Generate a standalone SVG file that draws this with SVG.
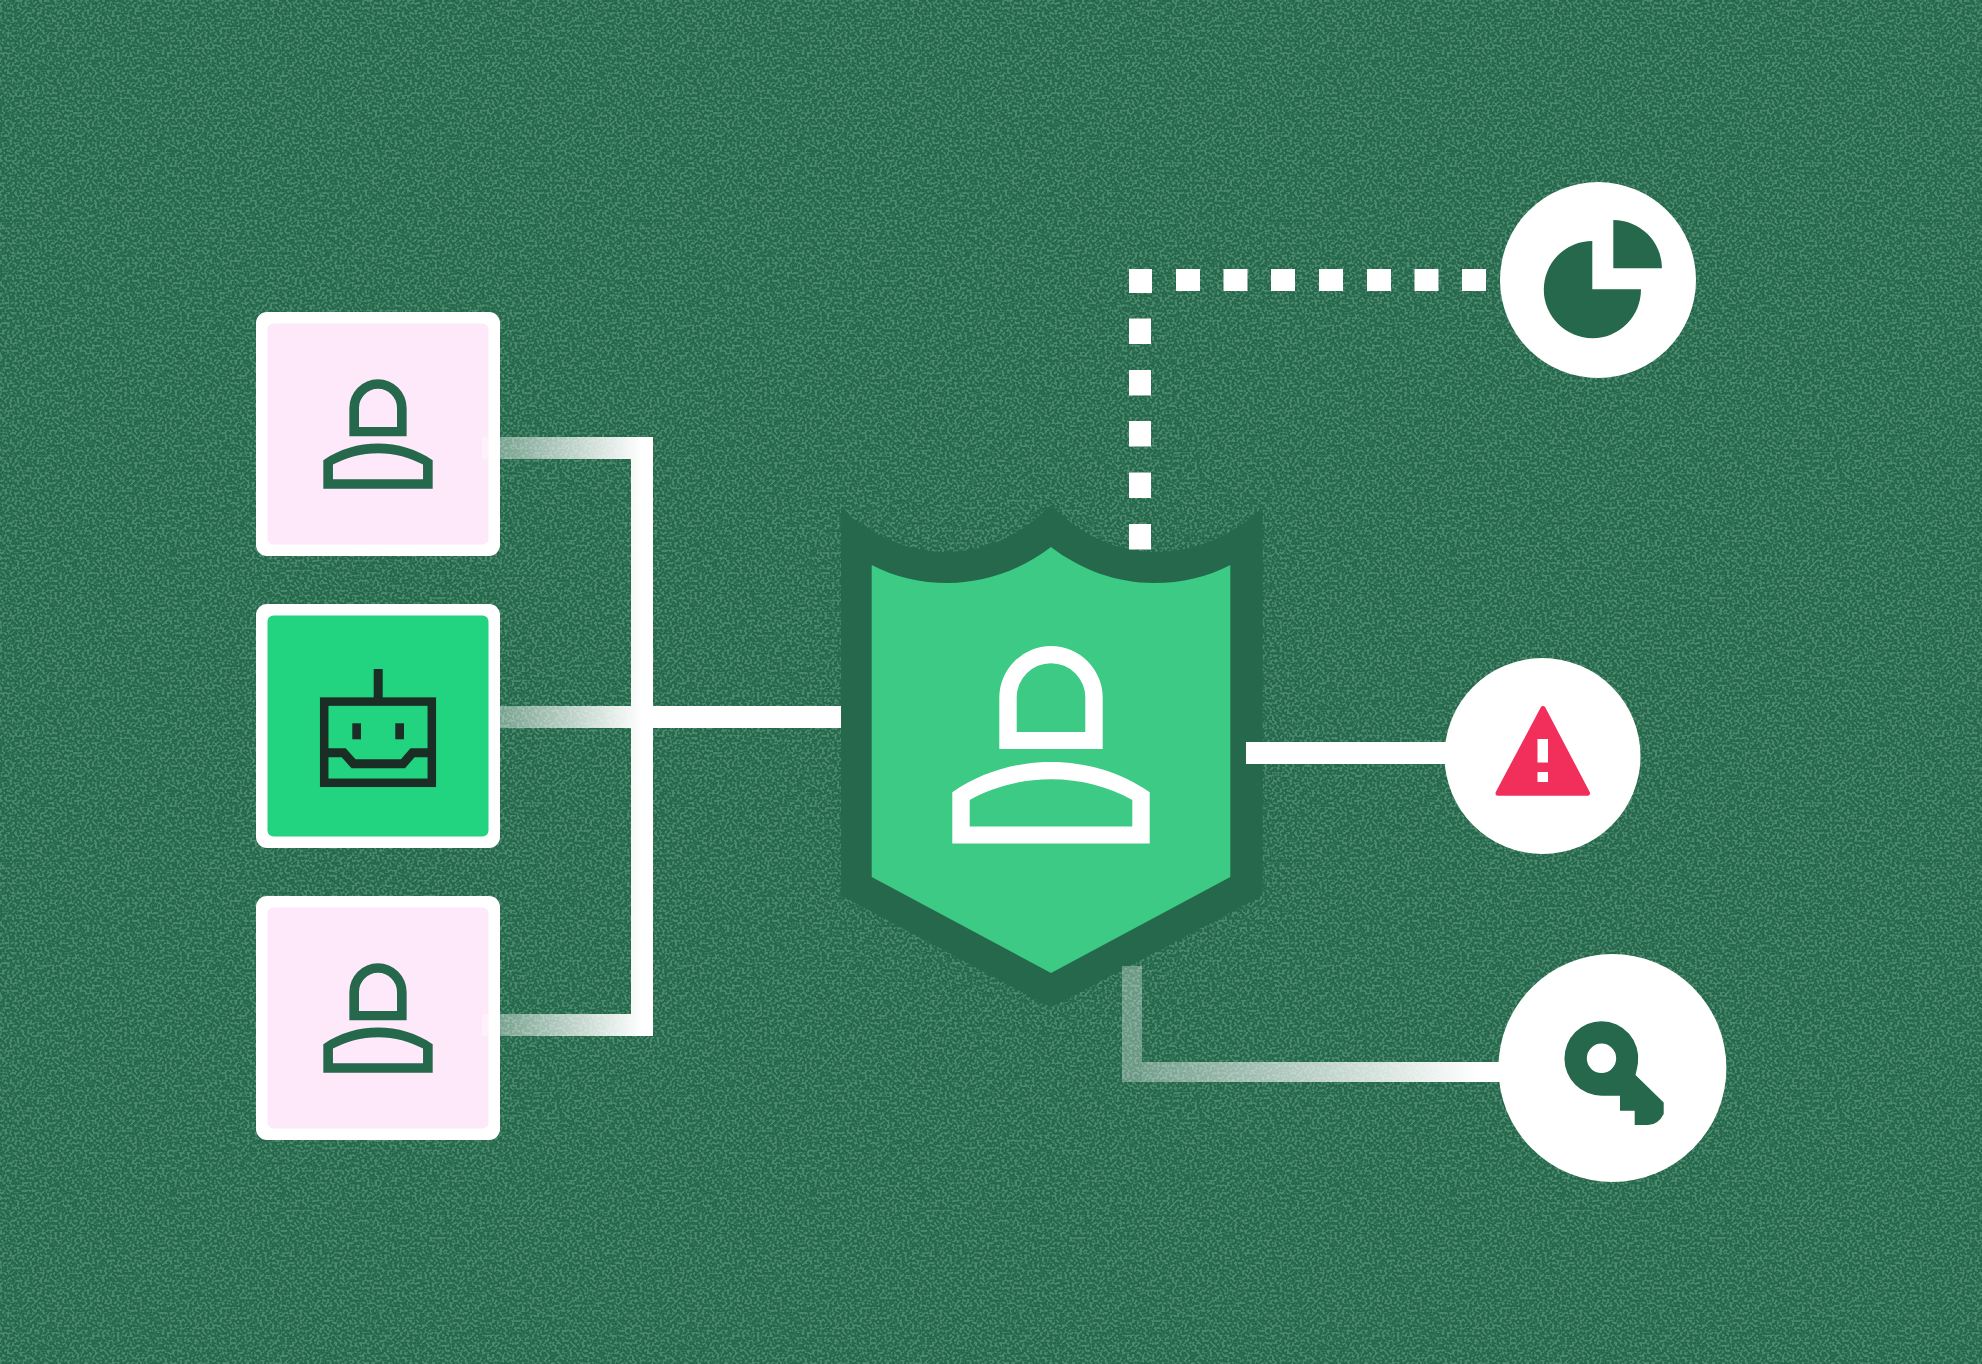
<svg xmlns="http://www.w3.org/2000/svg" width="1982" height="1364" viewBox="0 0 1982 1364">
<style>
.frame{fill:#fff}
.line{fill:#fff}
.ink{fill:#25684b}
.robot{fill:none;stroke:#1a2e25}
</style>
<defs>
<filter id="noise" x="0" y="0" width="100%" height="100%" color-interpolation-filters="sRGB">
<feTurbulence type="fractalNoise" baseFrequency="0.4" numOctaves="1" seed="7"/>
<feColorMatrix values="0 0 0 0 .3 0 0 0 0 .54 0 0 0 0 .43 7 0 0 0 -3.3"/>
</filter>
<linearGradient id="gL" gradientUnits="userSpaceOnUse" x1="482" y1="0" x2="640" y2="0">
<stop offset="0" stop-color="#fff" stop-opacity=".35"/>
<stop offset=".12" stop-color="#fff" stop-opacity=".38"/>
<stop offset="1" stop-color="#fff" stop-opacity=".99"/>
</linearGradient>
<linearGradient id="gV" gradientUnits="userSpaceOnUse" x1="631" y1="0" x2="641" y2="0">
<stop offset="0" stop-color="#fff" stop-opacity=".95"/>
<stop offset="1" stop-color="#fff" stop-opacity="1"/>
</linearGradient>
<linearGradient id="gK" gradientUnits="userSpaceOnUse" x1="1122" y1="0" x2="1480" y2="0">
<stop offset="0" stop-color="#fff" stop-opacity=".32"/>
<stop offset="1" stop-color="#fff" stop-opacity="1"/>
</linearGradient>
<path id="person" fill-rule="evenodd" d="M-51.700,103V51.700A51.700,51.700 0 0 1 51.700,51.700V103ZM-34.300,86H34.300V51.500A34.300,34.300 0 0 0 -34.300,51.500ZM-98.700,197.600V146.300C-70,126 -35,116 0,116C35,116 70,126 98.700,146.300V197.600ZM-81.300,180.400H81.300V154C58,141 30,133.300 0,133.300C-30,133.300 -58,141 -81.300,154Z"/>
</defs>
<rect width="1982" height="1364" fill="#25684b"/>
<rect width="1982" height="1364" filter="url(#noise)"/>
<g id="node-user-top">
<rect class="frame" x="256" y="312" width="244" height="244" rx="11"/>
<rect x="267.500" y="323.500" width="221" height="221" rx="6" fill="#fee9fa"/>
<use href="#person" transform="translate(378,379.300) scale(.554)" fill="#25684b"/>
</g>
<g id="node-robot">
<rect class="frame" x="256" y="604" width="244" height="244" rx="11"/>
<rect x="267.500" y="615.500" width="221" height="221" rx="6" fill="#22d37f"/>
<g fill="#1a2e25">
<rect x="373.700" y="669" width="9" height="30"/>
<rect x="352.300" y="723.300" width="8.700" height="16"/>
<rect x="395.300" y="723.300" width="8.700" height="16"/>
</g>
<rect class="robot" x="324.200" y="701.600" width="107.600" height="81.200" stroke-width="8.500"/>
<path class="robot" d="M324.200,752.800H343.700L353.500,763.700H403L412.500,752.800H431.800" stroke-width="9"/>
</g>
<g id="node-user-bottom">
<rect class="frame" x="256" y="896" width="244" height="244" rx="11"/>
<rect x="267.500" y="907.500" width="221" height="221" rx="6" fill="#fee9fa"/>
<use href="#person" transform="translate(378,963.300) scale(.554)" fill="#25684b"/>
</g>
<g id="node-shield">
<path fill="#25684b" d="M841,508C866,532 905,552 947,552C985,552 1022,535 1051,504.500C1080,535 1117,552 1156,552C1198,552 1238,532 1262.700,507V895.600L1051,1007.600L841,895.600Z"/>
<path fill="#3dca84" d="M871.700,565C895,577 920,583 948,583C985,583 1021,570 1051,547C1081,570 1117,583 1154,583C1182,583 1207,577 1230.300,565V877L1051,973L871.700,877Z"/>
<use href="#person" transform="translate(1051,646)" fill="#fff"/>
</g>
<g id="node-chart">
<circle class="frame" cx="1598" cy="280" r="98"/>
<path class="ink" d="M1592.300,241A48.600,48.600 0 1 0 1641,289.300H1592.300Z"/>
<path class="ink" d="M1613.300,220A48.700,48.700 0 0 1 1662,268.300H1613.300Z"/>
</g>
<g id="node-alert">
<circle class="frame" cx="1542.500" cy="756" r="98"/>
<path d="M1543,708.500L1587.500,793.200H1498Z" fill="#f22e5b" stroke="#f22e5b" stroke-width="5" stroke-linejoin="round"/>
<rect class="frame" x="1537.500" y="739" width="10.500" height="23.500"/>
<rect class="frame" x="1537.500" y="772" width="10.500" height="10"/>
</g>
<g id="node-key">
<circle class="frame" cx="1612.400" cy="1068" r="114"/>
<path class="ink" fill-rule="evenodd" d="M1601.500,1021.200A37,37.200 0 0 1 1638,1063Q1637,1069 1635.500,1075L1663.700,1102.500V1114Q1658,1125 1648,1125H1634.700V1110.700H1620V1095.700H1601.500A37,37.200 0 0 1 1601.500,1021.200ZM1601.500,1043.600A14.700,14.700 0 1 0 1601.500,1073A14.700,14.700 0 1 0 1601.500,1043.600Z"/>
</g>
<g id="connectors">
<rect x="482" y="437" width="149" height="22" fill="url(#gL)"/>
<rect x="482" y="1014" width="149" height="22" fill="url(#gL)"/>
<rect x="500" y="706" width="131" height="22" fill="url(#gL)"/>
<rect x="631" y="437" width="22" height="599" fill="url(#gV)"/>
<rect class="line" x="653" y="706" width="188" height="22"/>
<g class="line">
<rect x="1129" y="269" width="23" height="24"/>
<rect x="1176" y="269" width="24" height="22"/><rect x="1223.500" y="269" width="24" height="22"/><rect x="1271" y="269" width="24" height="22"/><rect x="1319" y="269" width="24" height="22"/><rect x="1367" y="269" width="24" height="22"/><rect x="1414.500" y="269" width="24" height="22"/><rect x="1462" y="269" width="24" height="22"/>
<rect x="1129" y="318.500" width="22" height="25.500"/><rect x="1129" y="370" width="22" height="25.500"/><rect x="1129" y="421" width="22" height="25.500"/><rect x="1129" y="472.500" width="22" height="25.500"/><rect x="1129" y="524" width="22" height="25.500"/>
<rect x="1246" y="742" width="202" height="22"/>
</g>
<rect x="1122" y="966" width="20" height="116" fill="#fff" fill-opacity=".32"/>
<rect x="1142" y="1062" width="360" height="20" fill="url(#gK)"/>
</g>
</svg>
